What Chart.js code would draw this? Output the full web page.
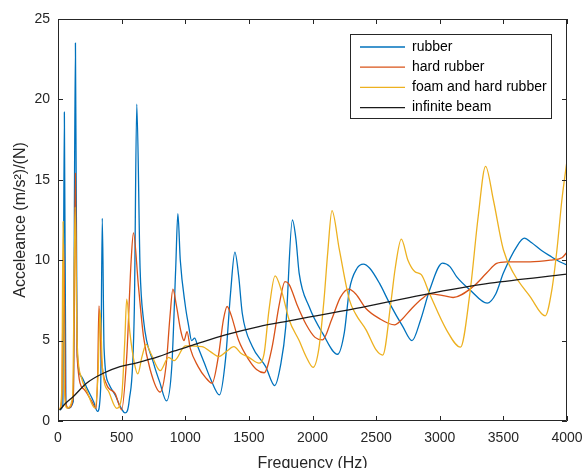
<!DOCTYPE html>
<html><head><meta charset="utf-8">
<script src="https://cdn.jsdelivr.net/npm/chart.js@4.4.1/dist/chart.umd.min.js"></script>
<style>html,body{margin:0;padding:0;background:#fff}</style>
</head><body>
<canvas id="c" width="583" height="468"></canvas>
<script>
// ---- data (frequency in Hz, acceleance) ----
const seriesNames = ['rubber','hard rubber','foam and hard rubber','infinite beam'];
const xTicks = [0,500,1000,1500,2000,2500,3000,3500,4000];
const yTicks = [0,5,10,15,20,25];

const rubberF = [14,38,50,62,80,120,137,150,180,230,280,310,335,348,362,400,450,490,527,560,600,619,645,672,751,800,853,895,925,942,961,1000,1027,1050,1074,1100,1150,1200,1269,1316,1356,1390,1420,1448,1527,1632,1703,1750,1790,1842,1870,1895,1974,2079,2197,2250,2290,2350,2400,2450,2526,2605,2710,2782,2850,2921,3021,3080,3132,3237,3373,3440,3500,3605,3665,3720,3800,3880,3921,4000];
const rubberA = [0.7,1.0,19.2,1.2,0.8,1.2,23.5,4.5,2.8,2.0,1.2,0.6,2.0,12.6,4.5,2.3,1.6,0.9,0.5,1.3,7.0,19.7,9.5,6.3,3.6,2.4,1.25,3.5,9.5,12.9,10.0,7.2,5.9,5.0,5.15,4.6,3.6,2.6,1.62,3.8,7.95,10.5,9.0,6.7,4.63,3.38,2.2,3.5,5.87,12.5,11.3,9.2,7.1,5.46,4.15,5.5,8.16,9.5,9.76,9.5,8.57,7.33,5.87,5.0,6.3,8.16,9.82,9.6,8.98,8.16,7.33,7.9,9.2,10.85,11.37,11.1,10.6,10.2,10.0,9.7];

const hardF = [14,30,45,60,80,120,137,150,200,260,300,312,322,340,380,448,500,540,575,593,632,672,724,803,850,880,903,930,965,990,1014,1040,1100,1160,1211,1260,1300,1329,1360,1420,1500,1560,1620,1680,1740,1784,1816,1880,1950,2020,2079,2150,2220,2284,2340,2420,2520,2645,2700,2780,2860,2921,3026,3105,3263,3368,3447,3526,3710,3868,3960,4000];
const hardA = [0.7,1.5,11.0,1.2,0.8,1.5,15.4,4.0,2.0,1.3,0.8,3.0,7.16,4.0,2.3,1.72,0.7,4.0,10.0,11.7,8.4,5.25,3.2,1.8,3.5,6.5,8.2,7.2,5.6,5.0,5.56,4.5,3.4,2.7,2.35,4.0,6.3,7.12,6.6,5.0,3.8,3.2,3.0,4.5,7.3,8.67,8.5,7.2,6.0,5.2,5.04,6.3,7.7,8.2,7.9,7.0,6.4,5.98,6.3,7.0,7.6,7.9,7.8,7.68,8.36,9.2,9.8,9.9,9.9,10.0,10.15,10.5];

const foamF = [14,30,40,50,70,115,135,150,180,230,290,315,330,350,400,461,500,525,540,565,600,627,660,693,730,803,869,914,1001,1132,1200,1264,1320,1382,1440,1500,1579,1620,1658,1706,1760,1816,1895,1950,2005,2050,2090,2120,2153,2211,2290,2343,2421,2500,2552,2618,2650,2698,2750,2803,2855,2921,3053,3163,3237,3302,3360,3421,3500,3579,3710,3829,3881,3921,3960,4000];
const foamA = [0.7,2.0,12.4,2.0,0.8,1.5,13.3,5.0,2.8,1.8,0.8,3.0,6.9,3.2,1.8,0.79,1.5,5.0,7.58,5.5,3.6,2.93,4.0,4.77,4.2,3.13,3.96,3.75,4.67,4.63,4.3,4.0,4.3,4.63,4.2,3.96,3.6,4.2,6.9,9.03,8.0,6.3,5.0,4.0,3.34,4.5,7.5,10.5,13.08,10.65,7.53,6.6,5.67,4.42,4.1,7.5,9.5,11.31,10.0,9.3,9.1,7.9,5.67,4.59,7.95,12.7,15.84,13.76,10.65,9.2,7.74,6.54,8.16,10.65,13.76,16.2];

const beamF = [14,60,119,224,356,487,619,790,908,1053,1316,1579,1816,2343,2868,3395,4000];
const beamA = [0.68,1.1,1.51,2.35,2.97,3.38,3.62,4.0,4.34,4.7,5.35,5.87,6.23,7.0,7.85,8.57,9.13];

const colors = ['#0072BD','#D95319','#EDB120','#1a1a1a'];
const axisColor = '#262626';
const FONT = '"Liberation Sans", Arial, Helvetica, sans-serif';

const pts = (f,a) => f.map((v,i)=>({x:v,y:a[i]}));
const sets = [[rubberF,rubberA],[hardF,hardA],[foamF,foamA],[beamF,beamA]];

const datasets = sets.map((s,i)=>({
  label: seriesNames[i],
  data: pts(s[0],s[1]),
  borderColor: colors[i],
  backgroundColor: colors[i],
  borderWidth: 1.3,
  pointRadius: 0,
  fill: false,
  cubicInterpolationMode: 'monotone',
  order: 4 - i
}));

const axesBox = {
  id:'axesBox',
  afterDatasetsDraw(chart){
    const {ctx, chartArea:{left,right,top,bottom}, scales:{x,y}} = chart;
    ctx.save();
    ctx.strokeStyle = axisColor; ctx.lineWidth = 1;
    ctx.beginPath();
    ctx.rect(Math.round(left)+0.5, Math.round(top)+0.5, Math.round(right-left)-1, Math.round(bottom-top)-1);
    ctx.stroke();
    ctx.beginPath();
    xTicks.forEach(v=>{
      const p = Math.round(x.getPixelForValue(v))+0.5;
      ctx.moveTo(p,bottom); ctx.lineTo(p,bottom-5);
      ctx.moveTo(p,top); ctx.lineTo(p,top+5);
    });
    yTicks.forEach(v=>{
      const p = Math.round(y.getPixelForValue(v))+0.5;
      ctx.moveTo(left,p); ctx.lineTo(left+5,p);
      ctx.moveTo(right,p); ctx.lineTo(right-5,p);
    });
    ctx.stroke();
    ctx.restore();
  }
};

const legendBox = {
  id:'legendBox',
  afterDraw(chart){
    const ctx = chart.ctx;
    const x0 = 350.5, y0 = 34.5, w = 201, h = 84;
    ctx.save();
    ctx.fillStyle = '#fff'; ctx.fillRect(x0,y0,w,h);
    ctx.strokeStyle = axisColor; ctx.lineWidth = 1; ctx.strokeRect(x0,y0,w,h);
    ctx.font = '14px ' + FONT;
    ctx.textBaseline = 'middle';
    chart.data.datasets.forEach((ds,i)=>{
      const yy = 47 + i*20.2;
      ctx.strokeStyle = ds.borderColor; ctx.lineWidth = 1.3;
      ctx.beginPath(); ctx.moveTo(360,yy); ctx.lineTo(405,yy); ctx.stroke();
      ctx.fillStyle = '#000';
      ctx.fillText(ds.label, 412, yy);
    });
    ctx.restore();
  }
};

new Chart(document.getElementById('c'), {
  type:'line',
  data:{datasets},
  options:{
    responsive:false, animation:false, devicePixelRatio:1,
    layout:{padding:{left:0,right:16,top:19,bottom:0}},
    plugins:{legend:{display:false}, tooltip:{enabled:false}},
    scales:{
      x:{type:'linear', min:0, max:4000,
        afterFit:s=>{s.height=47; s.paddingLeft=0; s.paddingRight=0;},
        afterBuildTicks:s=>{s.ticks = xTicks.map(v=>({value:v}));},
        grid:{display:false, drawTicks:false}, border:{display:false},
        ticks:{color:axisColor, padding:9, maxRotation:0, autoSkip:false, font:{family:FONT, size:14},
          callback:v=>String(v)},
        title:{display:true, text:'Frequency (Hz)', color:axisColor, font:{family:FONT, size:16}, padding:{top:0,bottom:-5}}
      },
      y:{type:'linear', min:0, max:25,
        afterFit:s=>{s.width=58; s.paddingTop=0; s.paddingBottom=0;},
        afterBuildTicks:s=>{s.ticks = yTicks.map(v=>({value:v}));},
        grid:{display:false, drawTicks:false}, border:{display:false},
        ticks:{color:axisColor, padding:8, autoSkip:false, font:{family:FONT, size:14},
          callback:v=>String(v)},
        title:{display:true, text:'Acceleance (m/s²)/(N)', color:axisColor, font:{family:FONT, size:16}, padding:{top:11,bottom:0}}
      }
    }
  },
  plugins:[axesBox, legendBox]
});
</script>
</body></html>
